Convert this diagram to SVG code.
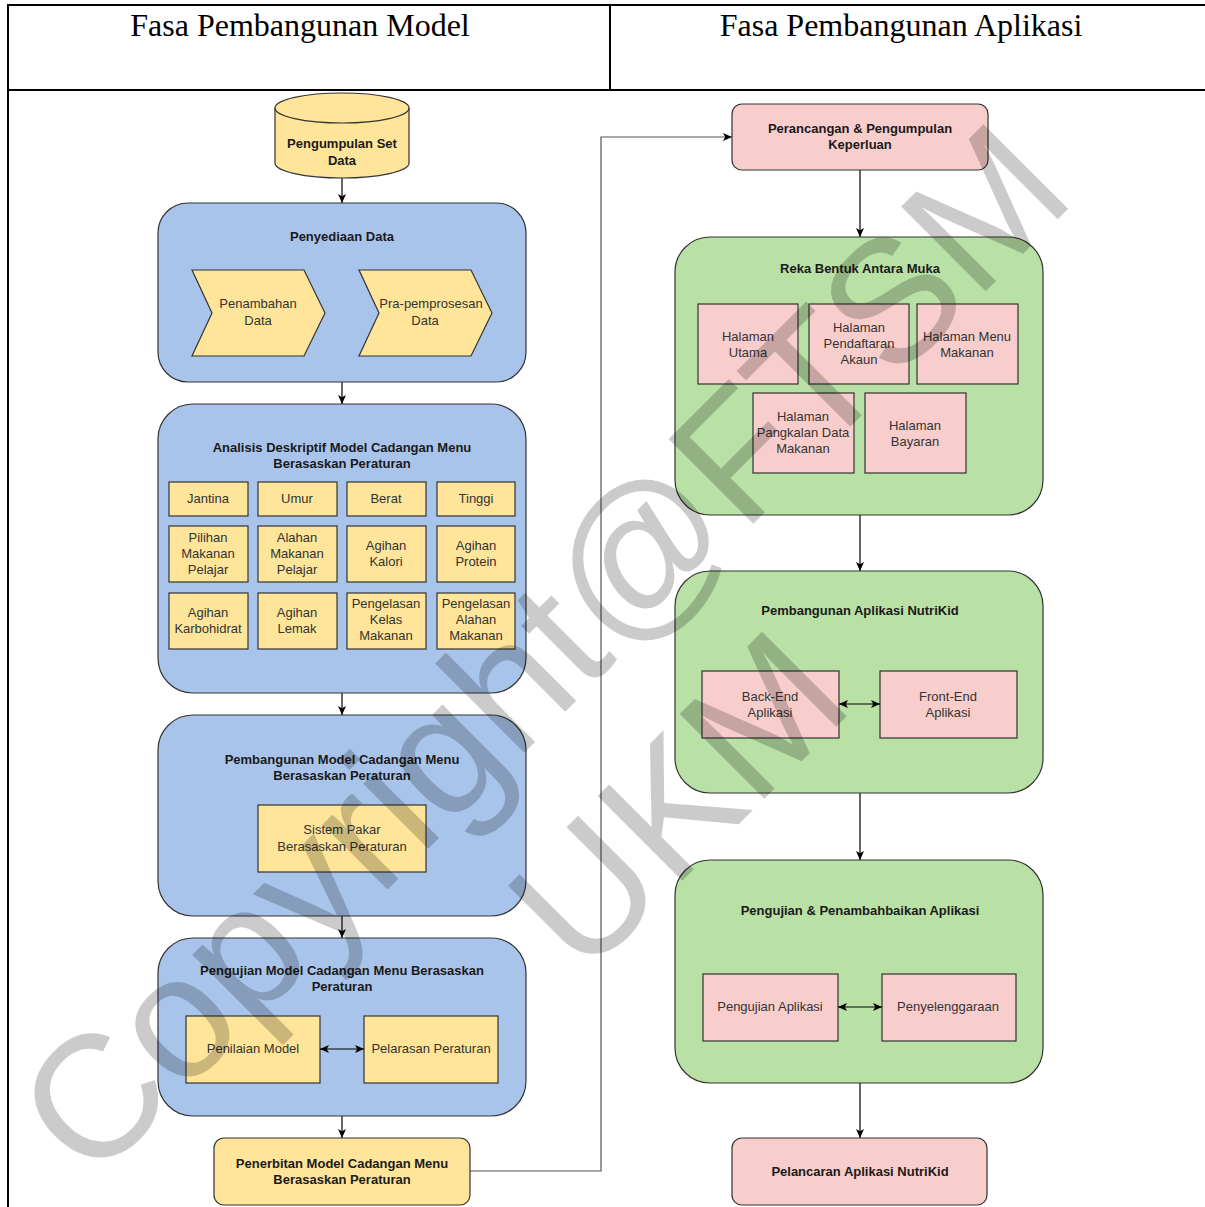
<svg xmlns="http://www.w3.org/2000/svg" width="1205" height="1207" viewBox="0 0 1205 1207">
<defs>
<style>
.hdr{font-family:"Liberation Serif","Times New Roman",serif;font-size:32px;fill:#000;text-anchor:middle}
.t{font-family:"Liberation Sans",Arial,sans-serif;font-size:13px;fill:#333;text-anchor:middle}
.b{font-family:"Liberation Sans",Arial,sans-serif;font-size:13px;font-weight:bold;fill:#1a1a1a;text-anchor:middle}
.blue{fill:#A9C4EB;stroke:#333;stroke-width:1.2}
.green{fill:#B9E0A5;stroke:#333;stroke-width:1.2}
.yel{fill:#FFE599;stroke:#333;stroke-width:1.2}
.pink{fill:#F8CECC;stroke:#333;stroke-width:1.2}
.ln{fill:none;stroke:#000;stroke-width:1.2}
.tbl{fill:none;stroke:#000;stroke-width:2}
.wm{font-family:"Liberation Sans",Arial,sans-serif;font-size:174px;fill:#000;opacity:0.2;text-anchor:middle}
</style>
<marker id="ah" markerUnits="userSpaceOnUse" markerWidth="10" markerHeight="8" refX="9" refY="4" orient="auto-start-reverse">
<path d="M0,0 L9,4 L0,8 L2.2,4 z" fill="#000"/>
</marker>
</defs>
<rect width="1205" height="1207" fill="#fff"/>

<g id="table">
<line class="tbl" x1="8" y1="5" x2="1205" y2="5"/>
<line class="tbl" x1="8" y1="4" x2="8" y2="1207"/>
<line class="tbl" x1="8" y1="90" x2="1205" y2="90"/>
<line class="tbl" x1="610" y1="5" x2="610" y2="90"/>
<text class="hdr" x="300" y="36">Fasa Pembangunan Model</text>
<text class="hdr" x="901" y="36">Fasa Pembangunan Aplikasi</text>
</g>

<g id="connectors">
<line class="ln" x1="342" y1="178" x2="342" y2="203" marker-end="url(#ah)"/>
<line class="ln" x1="342" y1="382" x2="342" y2="404" marker-end="url(#ah)"/>
<line class="ln" x1="342" y1="693" x2="342" y2="715" marker-end="url(#ah)"/>
<line class="ln" x1="342" y1="916" x2="342" y2="938" marker-end="url(#ah)"/>
<line class="ln" x1="342" y1="1116" x2="342" y2="1138" marker-end="url(#ah)"/>
<polyline class="ln" points="470,1171 601,1171 601,137 732,137" style="stroke:#555" marker-end="url(#ah)"/>
<line class="ln" x1="860" y1="170" x2="860" y2="237" marker-end="url(#ah)"/>
<line class="ln" x1="860" y1="515" x2="860" y2="571" marker-end="url(#ah)"/>
<line class="ln" x1="860" y1="793" x2="860" y2="860" marker-end="url(#ah)"/>
<line class="ln" x1="860" y1="1083" x2="860" y2="1138" marker-end="url(#ah)"/>
</g>

<g id="n-pengumpulan">
<path class="yel" d="M275,108 A67,15 0 0 1 409,108 L409,163 A67,15 0 0 1 275,163 Z"/>
<path d="M275,108 A67,15 0 0 0 409,108" fill="none" stroke="#333" stroke-width="1.2"/>
<text class="b" x="342" y="148">Pengumpulan Set</text>
<text class="b" x="342" y="165">Data</text>
</g>

<g id="n-penyediaan">
<rect class="blue" x="158" y="203" width="368" height="179" rx="30"/>
<text class="b" x="342" y="241">Penyediaan Data</text>
<polygon class="yel" points="192,270 304,270 325,313 304,356 192,356 212,313"/>
<text class="t" x="258" y="308">Penambahan</text>
<text class="t" x="258" y="325">Data</text>
<polygon class="yel" points="359,270 471,270 492,313 471,356 359,356 379,313"/>
<text class="t" x="431" y="308">Pra-pemprosesan</text>
<text class="t" x="425" y="325">Data</text>
</g>

<g id="n-analisis">
<rect class="blue" x="158" y="404" width="368" height="289" rx="35"/>
<text class="b" x="342" y="452">Analisis Deskriptif Model Cadangan Menu</text>
<text class="b" x="342" y="468">Berasaskan Peraturan</text>
<rect class="yel" x="169" y="482" width="79" height="34"/>
<rect class="yel" x="258" y="482" width="79" height="34"/>
<rect class="yel" x="347" y="482" width="79" height="34"/>
<rect class="yel" x="437" y="482" width="78" height="34"/>
<rect class="yel" x="169" y="526" width="79" height="56"/>
<rect class="yel" x="258" y="526" width="79" height="56"/>
<rect class="yel" x="347" y="526" width="79" height="56"/>
<rect class="yel" x="437" y="526" width="78" height="56"/>
<rect class="yel" x="169" y="593" width="79" height="56"/>
<rect class="yel" x="258" y="593" width="79" height="56"/>
<rect class="yel" x="347" y="593" width="79" height="56"/>
<rect class="yel" x="437" y="593" width="78" height="56"/>
<text class="t" x="208" y="503">Jantina</text>
<text class="t" x="297" y="503">Umur</text>
<text class="t" x="386" y="503">Berat</text>
<text class="t" x="476" y="503">Tinggi</text>
<text class="t" x="208" y="542">Pilihan</text>
<text class="t" x="208" y="558">Makanan</text>
<text class="t" x="208" y="574">Pelajar</text>
<text class="t" x="297" y="542">Alahan</text>
<text class="t" x="297" y="558">Makanan</text>
<text class="t" x="297" y="574">Pelajar</text>
<text class="t" x="386" y="550">Agihan</text>
<text class="t" x="386" y="566">Kalori</text>
<text class="t" x="476" y="550">Agihan</text>
<text class="t" x="476" y="566">Protein</text>
<text class="t" x="208" y="617">Agihan</text>
<text class="t" x="208" y="633">Karbohidrat</text>
<text class="t" x="297" y="617">Agihan</text>
<text class="t" x="297" y="633">Lemak</text>
<text class="t" x="386" y="608">Pengelasan</text>
<text class="t" x="386" y="624">Kelas</text>
<text class="t" x="386" y="640">Makanan</text>
<text class="t" x="476" y="608">Pengelasan</text>
<text class="t" x="476" y="624">Alahan</text>
<text class="t" x="476" y="640">Makanan</text>
</g>

<g id="n-pembangunan-model">
<rect class="blue" x="158" y="715" width="368" height="201" rx="35"/>
<text class="b" x="342" y="764">Pembangunan Model Cadangan Menu</text>
<text class="b" x="342" y="780">Berasaskan Peraturan</text>
<rect class="yel" x="258" y="805" width="168" height="67"/>
<text class="t" x="342" y="834">Sistem Pakar</text>
<text class="t" x="342" y="851">Berasaskan Peraturan</text>
</g>

<g id="n-pengujian-model">
<rect class="blue" x="158" y="938" width="368" height="178" rx="35"/>
<text class="b" x="342" y="975">Pengujian Model Cadangan Menu Berasaskan</text>
<text class="b" x="342" y="991">Peraturan</text>
<rect class="yel" x="186" y="1016" width="134" height="67"/>
<text class="t" x="253" y="1053">Penilaian Model</text>
<rect class="yel" x="364" y="1016" width="134" height="67"/>
<text class="t" x="431" y="1053">Pelarasan Peraturan</text>
<line class="ln" x1="320" y1="1049" x2="364" y2="1049" marker-start="url(#ah)" marker-end="url(#ah)"/>
</g>

<g id="n-penerbitan">
<rect class="yel" x="214" y="1138" width="256" height="67" rx="10"/>
<text class="b" x="342" y="1168">Penerbitan Model Cadangan Menu</text>
<text class="b" x="342" y="1184">Berasaskan Peraturan</text>
</g>

<g id="n-perancangan">
<rect class="pink" x="732" y="104" width="256" height="66" rx="10"/>
<text class="b" x="860" y="133">Perancangan &amp; Pengumpulan</text>
<text class="b" x="860" y="149">Keperluan</text>
</g>

<g id="n-reka">
<rect class="green" x="675" y="237" width="368" height="278" rx="35"/>
<text class="b" x="860" y="273">Reka Bentuk Antara Muka</text>
<rect class="pink" x="698" y="304" width="100" height="80"/>
<text class="t" x="748" y="341">Halaman</text>
<text class="t" x="748" y="357">Utama</text>
<rect class="pink" x="809" y="304" width="100" height="80"/>
<text class="t" x="859" y="332">Halaman</text>
<text class="t" x="859" y="348">Pendaftaran</text>
<text class="t" x="859" y="364">Akaun</text>
<rect class="pink" x="917" y="304" width="101" height="80"/>
<text class="t" x="967" y="341">Halaman Menu</text>
<text class="t" x="967" y="357">Makanan</text>
<rect class="pink" x="753" y="393" width="101" height="80"/>
<text class="t" x="803" y="421">Halaman</text>
<text class="t" x="803" y="437">Pangkalan Data</text>
<text class="t" x="803" y="453">Makanan</text>
<rect class="pink" x="865" y="393" width="101" height="80"/>
<text class="t" x="915" y="430">Halaman</text>
<text class="t" x="915" y="446">Bayaran</text>
</g>

<g id="n-pembangunan-aplikasi">
<rect class="green" x="675" y="571" width="368" height="222" rx="35"/>
<text class="b" x="860" y="615">Pembangunan Aplikasi NutriKid</text>
<rect class="pink" x="702" y="671" width="137" height="67"/>
<text class="t" x="770" y="701">Back-End</text>
<text class="t" x="770" y="717">Aplikasi</text>
<rect class="pink" x="880" y="671" width="137" height="67"/>
<text class="t" x="948" y="701">Front-End</text>
<text class="t" x="948" y="717">Aplikasi</text>
<line class="ln" x1="839" y1="704" x2="880" y2="704" marker-start="url(#ah)" marker-end="url(#ah)"/>
</g>

<g id="n-pengujian-aplikasi">
<rect class="green" x="675" y="860" width="368" height="223" rx="35"/>
<text class="b" x="860" y="915">Pengujian &amp; Penambahbaikan Aplikasi</text>
<rect class="pink" x="703" y="974" width="135" height="67"/>
<text class="t" x="770" y="1011">Pengujian Aplikasi</text>
<rect class="pink" x="882" y="974" width="134" height="67"/>
<text class="t" x="948" y="1011">Penyelenggaraan</text>
<line class="ln" x1="838" y1="1007" x2="882" y2="1007" marker-start="url(#ah)" marker-end="url(#ah)"/>
</g>

<g id="n-pelancaran">
<rect class="pink" x="732" y="1138" width="255" height="67" rx="10"/>
<text class="b" x="860" y="1176">Pelancaran Aplikasi NutriKid</text>
</g>

<g id="watermark">
<text class="wm" x="585" y="692" transform="rotate(-45 585 692)">Copyright@FTSM</text>
<text class="wm" x="720" y="843" transform="rotate(-45 720 843)">UKM</text>
</g>
</svg>
